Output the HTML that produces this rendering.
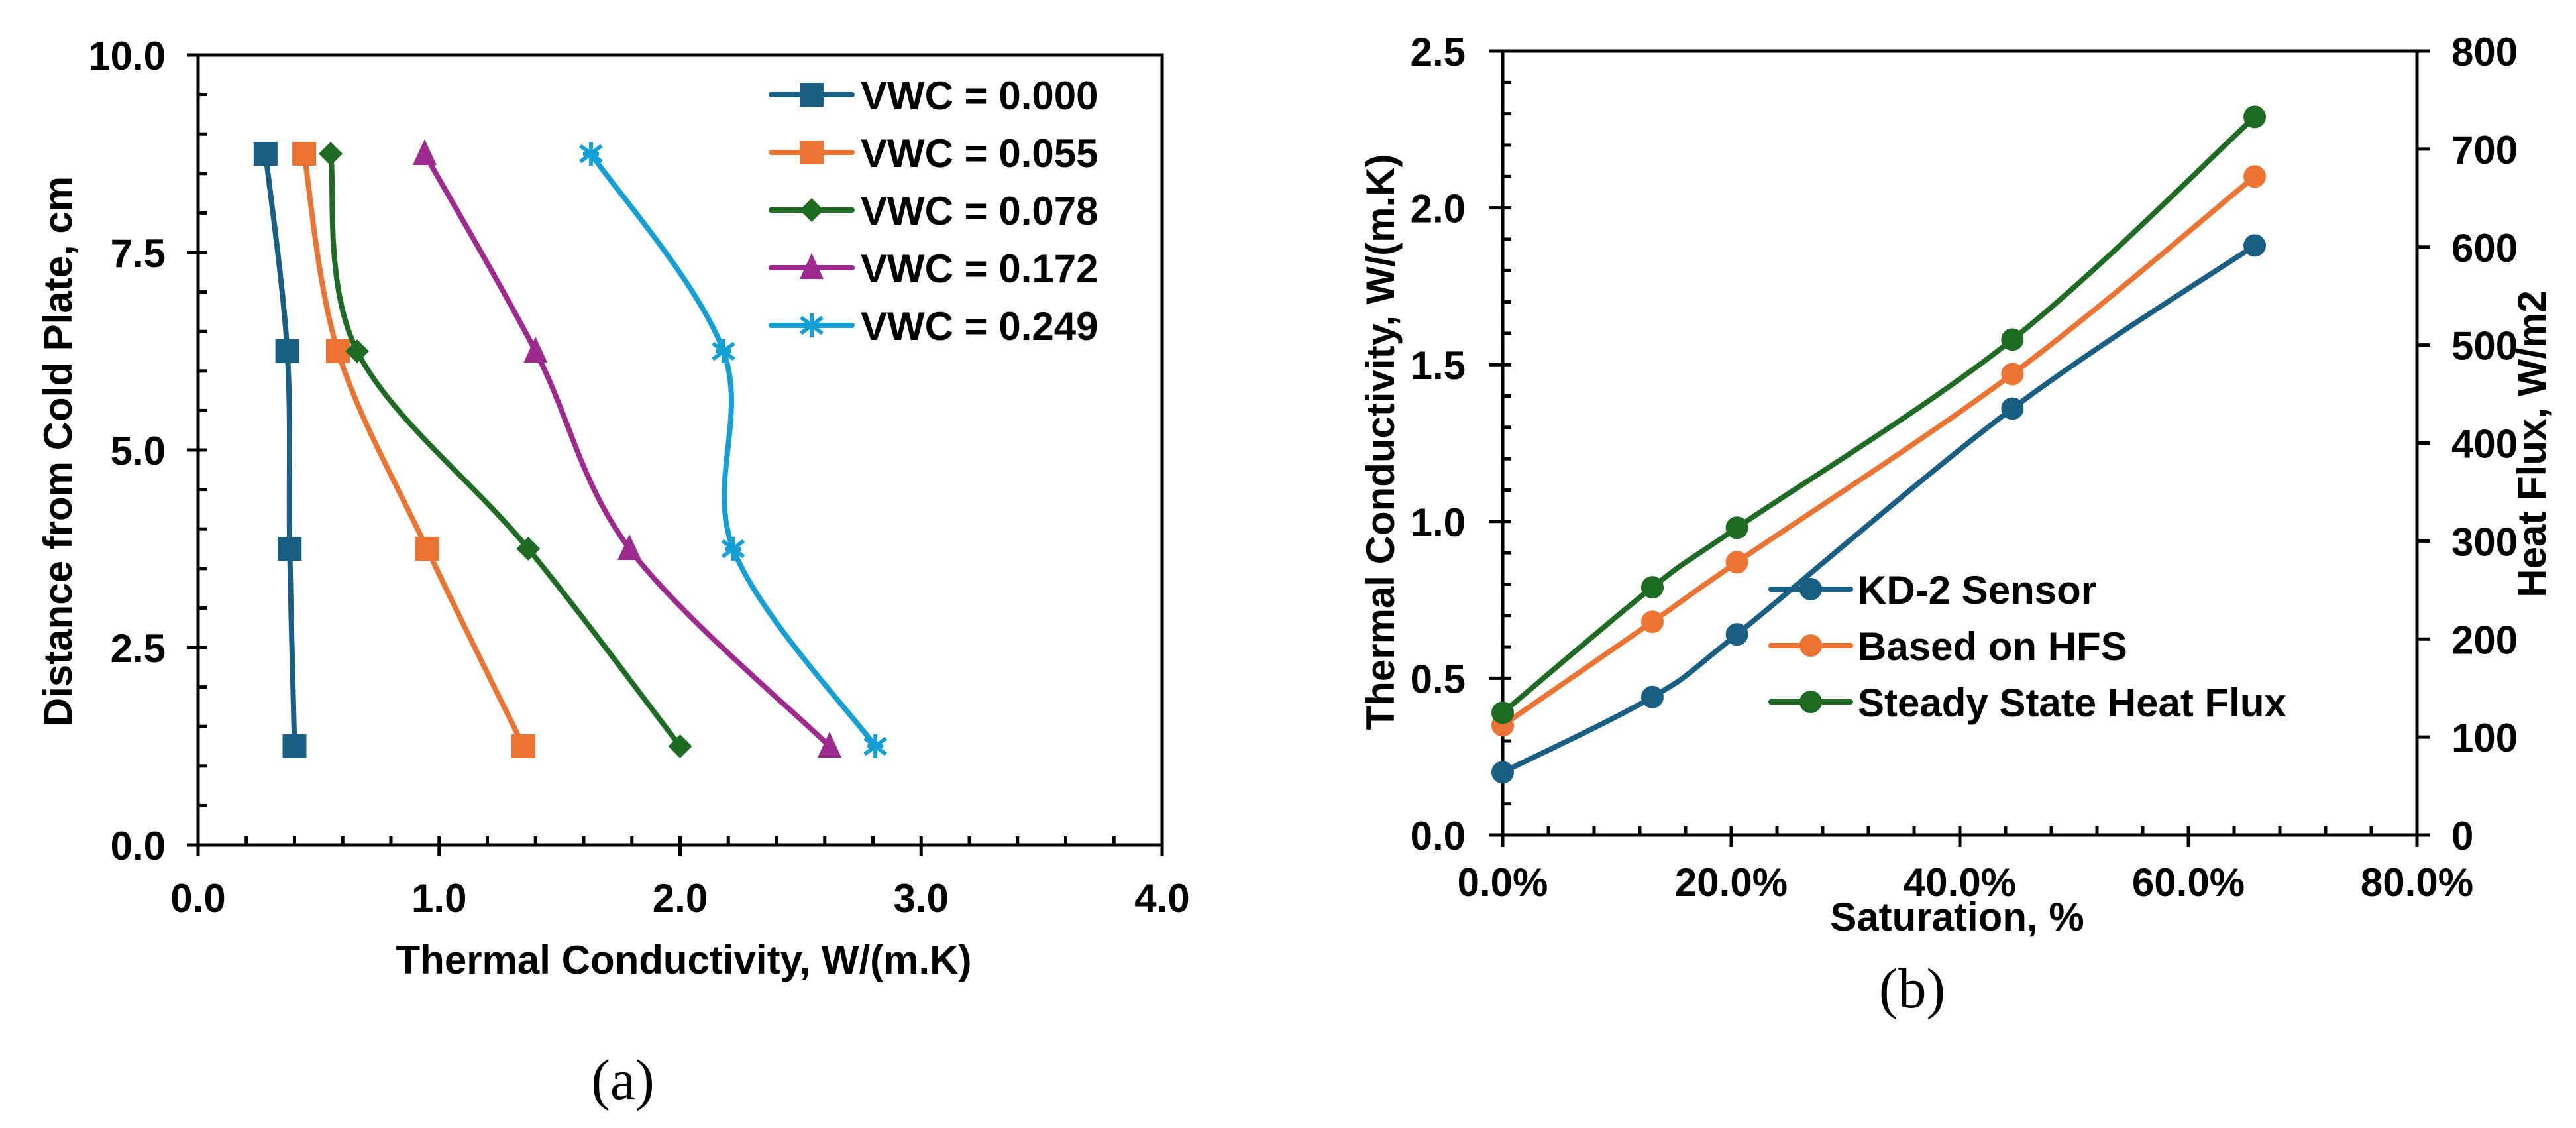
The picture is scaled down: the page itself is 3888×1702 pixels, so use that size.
<!DOCTYPE html>
<html><head><meta charset="utf-8">
<style>
html,body{margin:0;padding:0;background:#fff;}
svg{display:block;font-family:"Liberation Sans",Arial,sans-serif;}
.t{font-weight:bold;font-size:60px;fill:#000;}
.cap{font-family:"Liberation Serif",serif;font-size:86px;fill:#000;}
</style></head>
<body>
<svg id="fig" width="3888" height="1702" viewBox="0 0 3888 1702" xmlns="http://www.w3.org/2000/svg">
<rect width="3888" height="1702" fill="#fff"/>
<g id="chartA"></g>
<g id="chartB"></g>
</svg>
<script>
// ---- Chart (a) data ----
const aDepths = [8.75, 6.25, 3.75, 1.25];
const aSeriesNames = ["VWC = 0.000","VWC = 0.055","VWC = 0.078","VWC = 0.172","VWC = 0.249"];
const aVwc000 = [0.28, 0.37, 0.38, 0.40];
const aVwc055 = [0.44, 0.58, 0.95, 1.35];
const aVwc078 = [0.55, 0.66, 1.37, 2.00];
const aVwc172 = [0.94, 1.40, 1.79, 2.62];
const aVwc249 = [1.63, 2.18, 2.22, 2.81];
const aXTicks = ["0.0","1.0","2.0","3.0","4.0"];
const aYTicks = ["0.0","2.5","5.0","7.5","10.0"];
// ---- Chart (b) data ----
const bSaturation = [0, 13.1, 20.5, 44.6, 65.8];
const bSeriesNames = ["KD-2 Sensor","Based on HFS","Steady State Heat Flux"];
const bKd2 = [0.20, 0.44, 0.64, 1.36, 1.88];
const bHfs = [0.35, 0.68, 0.87, 1.47, 2.10];
const bSteady = [0.39, 0.79, 0.98, 1.58, 2.29];
const bXTicks = ["0.0%","20.0%","40.0%","60.0%","80.0%"];
const bYTicks = ["0.0","0.5","1.0","1.5","2.0","2.5"];
const bY2Ticks = ["0","100","200","300","400","500","600","700","800"];

const NS = "http://www.w3.org/2000/svg";
function mk(parent, tag, attrs){const e=document.createElementNS(NS,tag);for(const k in attrs)e.setAttribute(k,attrs[k]);parent.appendChild(e);return e;}
function smooth(pts){
  if(pts.length<2)return "";
  let d="M"+pts[0][0]+","+pts[0][1];
  for(let i=0;i<pts.length-1;i++){
    const p0=pts[Math.max(0,i-1)],p1=pts[i],p2=pts[i+1],p3=pts[Math.min(pts.length-1,i+2)];
    const c1=[p1[0]+(p2[0]-p0[0])/6,p1[1]+(p2[1]-p0[1])/6];
    const c2=[p2[0]-(p3[0]-p1[0])/6,p2[1]-(p3[1]-p1[1])/6];
    d+=" C"+c1[0]+","+c1[1]+" "+c2[0]+","+c2[1]+" "+p2[0]+","+p2[1];
  }
  return d;
}
function marker(g,type,x,y,color){
  let m;
  if(type==="square") m=mk(g,"rect",{x:x-18,y:y-18,width:36,height:36,fill:color});
  else if(type==="diamond") m=mk(g,"polygon",{points:`${x},${y-18} ${x+18},${y} ${x},${y+18} ${x-18},${y}`,fill:color});
  else if(type==="triangle") m=mk(g,"polygon",{points:`${x},${y-22} ${x+18},${y+17} ${x-18},${y+17}`,fill:color});
  else if(type==="star"){ m=mk(g,"path",{d:`M${x},${y-18}V${y+18}M${x-16},${y-12}L${x+16},${y+12}M${x+16},${y-12}L${x-16},${y+12}M${x-12},${y}H${x+12}`,stroke:color,"stroke-width":6,fill:"none"}); }
  else m=mk(g,"circle",{cx:x,cy:y,r:17,fill:color});
  
  
  return m;
}
function text(g,x,y,s,cls,anchor,extra){const t=mk(g,"text",Object.assign({x:x,y:y,class:cls,"text-anchor":anchor||"middle"},extra||{}));t.textContent=s;return t;}

// ===== Chart A =====
(function(){
  const g=document.getElementById("chartA");
  const X0=299,X1=1754,Y0=1275,Y1=83;
  const xs=v=>X0+(v/4)*(X1-X0), ys=v=>Y0-(v/10)*(Y0-Y1);
  const frame=mk(g,"rect",{x:X0,y:Y1,width:X1-X0,height:Y0-Y1,fill:"none",stroke:"#000","stroke-width":5});
  
  
  const ticks=mk(g,"g",{stroke:"#000","stroke-width":5});
  
  
  for(let i=0;i<=20;i++){const x=xs(i*0.2);const maj=i%5===0;mk(ticks,"line",{x1:x,x2:x,y1:Y0-13,y2:maj?Y0+17:Y0});}
  for(let i=0;i<=20;i++){const y=ys(i*0.5);const maj=i%5===0;mk(ticks,"line",{x1:maj?X0-17:X0,x2:X0+13,y1:y,y2:y});}
  aXTicks.forEach((s,i)=>{const t=text(g,xs(i),1376,s,"t");});
  aYTicks.forEach((s,i)=>{const t=text(g,250,ys(i*2.5)+22,s,"t","end");});
  const xt=text(g,1032,1469,"Thermal Conductivity, W/(m.K)","t");
  
  
  const yt=text(g,0,0,"Distance from Cold Plate, cm","t","middle",{transform:"translate(108,681) rotate(-90)"});
  
  
  const cap=text(g,940,1658,"(a)","cap");
  
  
  const series=[aVwc000,aVwc055,aVwc078,aVwc172,aVwc249];
  const colors=["#195f84","#ec7433","#1e6b23","#9e2a90","#14a0d6"];
  const mtypes=["square","square","diamond","triangle","star"];
  series.forEach((vals,si)=>{
    const sg=mk(g,"g",{});
    
    
    const pts=vals.map((v,i)=>[xs(v),ys(aDepths[i])]);
    const p=mk(sg,"path",{d:smooth(pts),fill:"none",stroke:colors[si],"stroke-width":8,"stroke-linejoin":"round"});
    
    
    pts.forEach(q=>marker(sg,mtypes[si],q[0],q[1],colors[si]));
    // legend
    const ly=143+si*87;
    const lg=mk(g,"g",{});
    
    
    mk(lg,"line",{x1:1164,x2:1286,y1:ly,y2:ly,stroke:colors[si],"stroke-width":8,"stroke-linecap":"round"});
    marker(lg,mtypes[si],1225,ly,colors[si]);
    text(lg,1299,ly+22,aSeriesNames[si],"t","start");
  });
})();

// ===== Chart B =====
(function(){
  const g=document.getElementById("chartB");
  const X0=2268,X1=3648,Y0=1260,Y1=77;
  const xs=v=>X0+(v/80)*(X1-X0), ys=v=>Y0-(v/2.5)*(Y0-Y1), ys2=v=>Y0-(v/800)*(Y0-Y1);
  const frame=mk(g,"rect",{x:X0,y:Y1,width:X1-X0,height:Y0-Y1,fill:"none",stroke:"#000","stroke-width":5});
  
  
  const ticks=mk(g,"g",{stroke:"#000","stroke-width":5});
  
  
  for(let i=0;i<=20;i++){const x=xs(i*4);const maj=i%5===0;mk(ticks,"line",{x1:x,x2:x,y1:Y0-13,y2:maj?Y0+18:Y0});}
  for(let i=0;i<=25;i++){const y=ys(i*0.1);const maj=i%5===0;mk(ticks,"line",{x1:maj?X0-20:X0,x2:X0+13,y1:y,y2:y});}
  for(let i=0;i<=8;i++){const y=ys2(i*100);mk(ticks,"line",{x1:X1,x2:X1+20,y1:y,y2:y});}
  bXTicks.forEach((s,i)=>{const t=text(g,xs(i*20),1352,s,"t");});
  bYTicks.forEach((s,i)=>{const t=text(g,2212,ys(i*0.5)+22,s,"t","end");});
  bY2Ticks.forEach((s,i)=>{const t=text(g,3700,ys2(i*100)+22,s,"t","start");});
  const xt=text(g,2954,1404,"Saturation, %","t");
  
  
  const yt=text(g,0,0,"Thermal Conductivity, W/(m.K)","t","middle",{transform:"translate(2104,667) rotate(-90)"});
  
  
  const y2t=text(g,0,0,"Heat Flux, W/m2","t","middle",{transform:"translate(3842,670) rotate(-90)"});
  
  
  const cap=text(g,2886,1520,"(b)","cap");
  
  
  const series=[bKd2,bHfs,bSteady];
  const colors=["#195f84","#ec7433","#1e6b23"];
  series.forEach((vals,si)=>{
    const sg=mk(g,"g",{});
    
    
    const pts=vals.map((v,i)=>[xs(bSaturation[i]),ys(v)]);
    const p=mk(sg,"path",{d:smooth(pts),fill:"none",stroke:colors[si],"stroke-width":8,"stroke-linejoin":"round"});
    
    
    pts.forEach(q=>marker(sg,"circle",q[0],q[1],colors[si]));
  });
  // legend drawn on top
  series.forEach((vals,si)=>{
    const ly=889+si*85;
    const lg=mk(g,"g",{});
    
    
    mk(lg,"line",{x1:2673,x2:2793,y1:ly,y2:ly,stroke:colors[si],"stroke-width":8,"stroke-linecap":"round"});
    marker(lg,"circle",2733,ly,colors[si]);
    text(lg,2804,ly+22,bSeriesNames[si],"t","start");
  });
})();
</script>
</body></html>
